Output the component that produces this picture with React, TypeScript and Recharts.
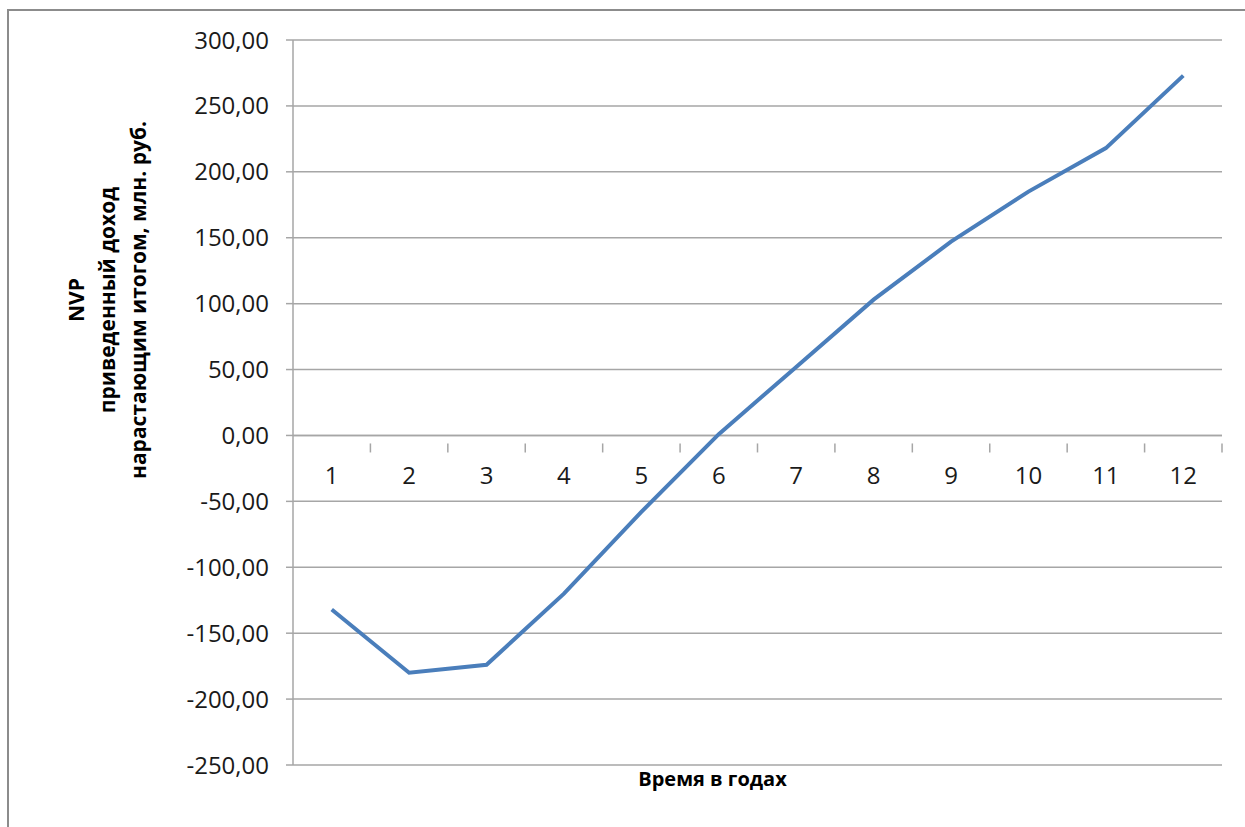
import { CartesianGrid, Line, LineChart, ReferenceLine, XAxis, YAxis } from 'recharts'

const years = ['1', '2', '3', '4', '5', '6', '7', '8', '9', '10', '11', '12']
const npv = [-132, -180, -174, -120, -58, 1, 52, 103, 147, 185, 218, 273]
const yTicks = [300, 250, 200, 150, 100, 50, 0, -50, -100, -150, -200, -250]

const data = years.map((year, i) => ({ year, npv: npv[i] }))

const W = 1245
const H = 827
const margin = { top: 40, right: 23, bottom: 0, left: 193 }
const xAxisH = 62
const yAxisW = 100
const yMin = -250
const yMax = 300
const plotH = H - margin.top - margin.bottom - xAxisH
const plotW = W - margin.left - yAxisW - margin.right
// distance from bottom of plot up to the zero line
const zeroUp = ((0 - yMin) / (yMax - yMin)) * plotH
const band = plotW / years.length

const font = '"Open Sans", "DejaVu Sans", sans-serif'
const gridColor = '#A6A6A6'

const fmt = (v: number) => v.toFixed(2).replace('.', ',')

/** category label + tick mark placed on the zero line instead of the plot bottom */
function ZeroTick(props: any) {
  const { x, y, payload } = props
  const y0 = y - zeroUp
  return (
    <g>
      <line x1={x + band / 2} x2={x + band / 2} y1={y0} y2={y0 + 9} stroke={gridColor} strokeWidth={1.5} />
      <text x={x} y={y0 + 41} textAnchor="middle" fill="#1a1a1a" fontSize={24} fontFamily={font}>
        {payload.value}
      </text>
    </g>
  )
}

function YTitle() {
  const cx = 108
  const cy = 300
  return (
    <text
      transform={`rotate(-90 ${cx} ${cy})`}
      x={cx}
      y={cy}
      textAnchor="middle"
      fontSize={21}
      fontWeight="bold"
      fontFamily={font}
      fill="#000"
    >
      <tspan x={cx} dy={-24}>NVP</tspan>
      <tspan x={cx} dy={31}>приведенный доход</tspan>
      <tspan x={cx} dy={31}>нарастающим итогом, млн. руб.</tspan>
    </text>
  )
}

export default function App() {
  return (
    <div style={{ position: 'absolute', left: 0, top: 0, width: W, height: H, background: '#fff' }}>
      <div
        style={{
          position: 'absolute',
          left: 7,
          top: 9,
          right: 0,
          bottom: 0,
          borderTop: '2px solid #8c8c8c',
          borderLeft: '2px solid #8c8c8c',
        }}
      />
      <LineChart width={W} height={H} data={data} margin={margin} style={{ position: 'absolute', left: 0, top: 0 }}>
        <CartesianGrid vertical={false} stroke={gridColor} strokeWidth={1.5} />
        <XAxis
          dataKey="year"
          scale="band"
          axisLine={false}
          tickLine={false}
          tick={<ZeroTick />}
          interval={0}
          height={xAxisH}
          label={{
            value: 'Время в годах',
            position: 'insideTop',
            offset: 7,
            dx: -45,
            fontSize: 20,
            fontWeight: 'bold',
            fontFamily: font,
            fill: '#000',
          }}
        />
        <YAxis
          domain={[yMin, yMax]}
          ticks={yTicks}
          interval={0}
          width={yAxisW}
          tickFormatter={fmt}
          tickSize={7}
          tickMargin={17}
          axisLine={{ stroke: gridColor, strokeWidth: 1.5 }}
          tickLine={{ stroke: gridColor, strokeWidth: 1.5 }}
          tick={{ fill: '#1a1a1a', fontSize: 24, fontFamily: font }}
          label={<YTitle />}
        />
        <ReferenceLine y={0} stroke={gridColor} strokeWidth={1.5} />
        <Line
          type="linear"
          dataKey="npv"
          stroke="#4A7EBB"
          strokeWidth={4}
          dot={false}
          isAnimationActive={false}
        />
      </LineChart>
    </div>
  )
}
